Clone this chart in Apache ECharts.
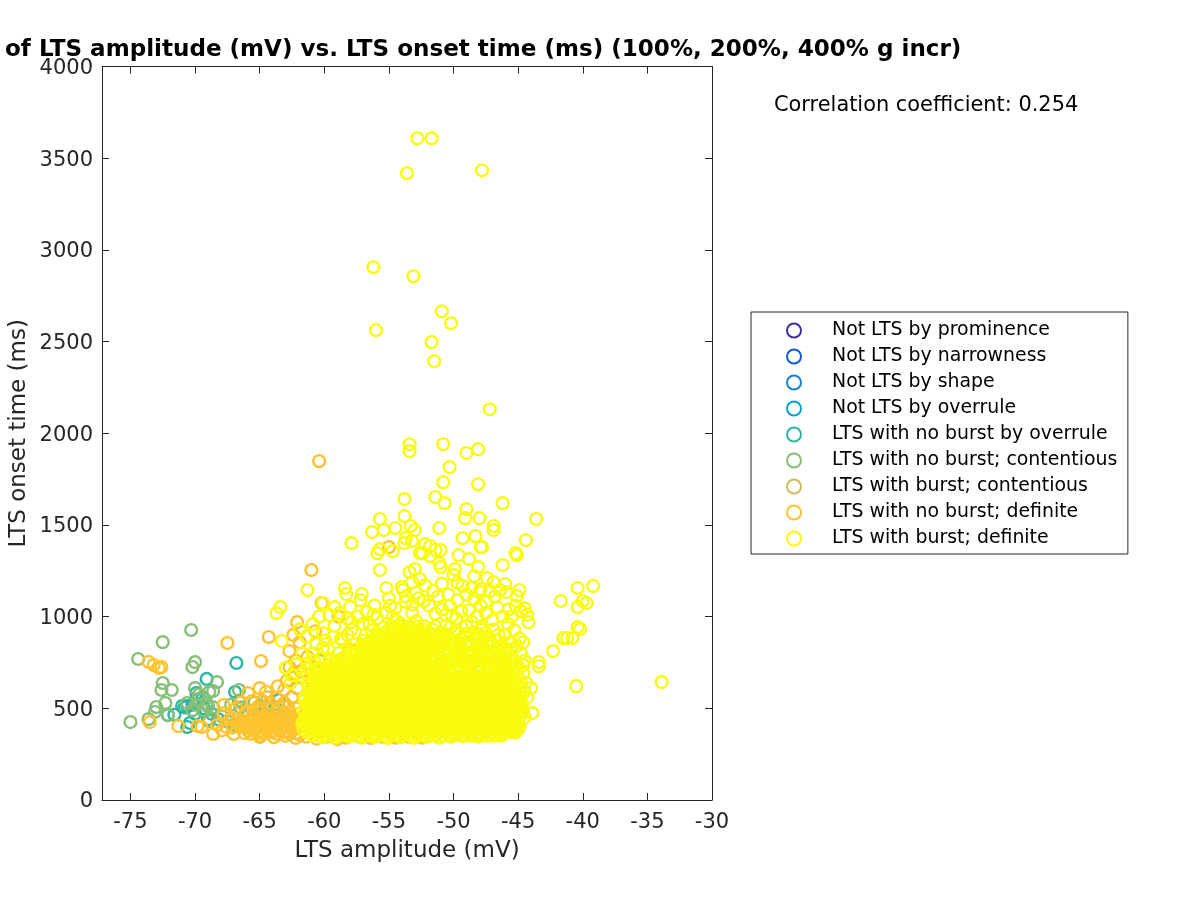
<!DOCTYPE html>
<html><head><meta charset="utf-8">
<script src="https://cdn.jsdelivr.net/npm/echarts@6/dist/echarts.min.js"></script>
<style>html,body{margin:0;padding:0;background:#fff}#c{width:1200px;height:900px}</style>
</head><body><div id="c"></div>
<script>
const seriesNames=["Not LTS by prominence","Not LTS by narrowness","Not LTS by shape","Not LTS by overrule","LTS with no burst by overrule","LTS with no burst; contentious","LTS with burst; contentious","LTS with no burst; definite","LTS with burst; definite"];
const seriesColors=["#3F2F9E","#0F5CDD","#1481D6","#06A4CA","#2BB7A2","#87BF77","#D1BB59","#FEC32E","#F9FB0E"];
const xTicks=[-75,-70,-65,-60,-55,-50,-45,-40,-35,-30];

const notProminence=[],notNarrowness=[],notShape=[],notOverrule=[];
const noBurstOverrule=[[-66.8,747],[-69.1,660],[-69.9,583],[-66.9,589],[-71,512],[-70.6,512],[-70.2,520],[-70.8,505],[-72.1,463],[-70.6,398],[-69.8,545],[-69.3,500],[-68.7,470],[-70,470],[-69,440],[-68.2,440],[-67.5,430],[-69.4,560],[-66.6,540],[-65.6,440],[-64.7,470],[-63.8,500],[-63.5,545],[-62.9,430],[-70.4,420],[-71.6,465]];
const noBurstContentious=[[-75,425],[-74.4,769],[-72.5,861],[-70.3,927],[-70,752],[-70.2,725],[-72.5,638],[-72.6,600],[-71.8,600],[-72.3,529],[-73,507],[-73.1,480],[-73.6,441],[-72.1,463],[-70,610],[-68.3,643],[-68.9,589],[-68.6,594],[-70.6,529],[-69.1,529],[-69.7,575],[-69.7,550],[-69.9,520],[-69.4,490],[-70.2,490],[-69,510],[-68.6,505],[-66.6,600],[-67.9,455],[-68.9,430],[-67.2,520],[-66.5,505],[-66,490],[-65.4,530],[-65.1,460],[-64.5,510],[-64.2,430],[-66.4,425],[-67,410],[-63.7,460],[-63.2,520],[-65.8,395]];
const burstContentious=[[-64.4,560],[-63.4,430],[-66.2,455],[-60.4,760],[-58.5,650],[-62.1,610]];
const noBurstDefinite=[[-55,1379],[-61,1254],[-60.4,1848],[-67.5,856],[-73.6,753],[-73.2,736],[-72.8,720],[-72.6,725],[-64.9,758],[-64.3,889],[-62.1,970],[-62.7,812],[-62.7,725],[-65,610],[-73.5,425],[-71.3,403],[-69.8,403],[-69.5,398],[-68.6,360],[-68.3,409],[-67.8,518],[-67.8,474],[-67,360],[-66.8,501],[-65.9,583],[-65,343],[-60.2,1074],[-62.4,900],[-61.9,860],[-62.9,650],[-62.4,690],[-61.8,700],[-61,650],[-60.7,920],[-61.3,780],[-62.2,760],[-63.1,600],[-63.6,620],[-64.5,590],[-66.5,530],[-65.6,540],[-65.2,505],[-64.8,540],[-64.2,530],[-63.7,555],[-63.1,530],[-62.5,560],[-62.2,500],[-66.1,470],[-65.5,470],[-64.9,480],[-64.4,470],[-63.8,480],[-63.2,470],[-62.7,480],[-67.3,440],[-66.7,440],[-66.2,430],[-65.7,425],[-65.2,430],[-64.7,425],[-64.2,435],[-63.7,425],[-63.2,430],[-62.7,435],[-62.2,430],[-67.6,400],[-67.1,395],[-66.5,400],[-66,395],[-65.5,392],[-65,398],[-64.5,392],[-64,398],[-63.5,392],[-63,398],[-62.5,392],[-62,398],[-66.2,365],[-65.7,362],[-65.2,368],[-64.7,362],[-64.2,368],[-63.7,362],[-63.2,368],[-62.7,362],[-62.2,365],[-64.9,350],[-63.9,342],[-63,350],[-62.2,338],[-61.4,345],[-60.6,335],[-59.8,345],[-59,332],[-58.3,340],[-57.3,345],[-56.4,338],[-55.5,345],[-54.5,340],[-53.5,345],[-52.4,340],[-60.7,375],[-59.5,410],[-60.5,470],[-61.1,540],[-60.2,600],[-59.1,720],[-58,820],[-58.9,1000],
[-65.9,378],[-65.4,380],[-64.9,376],[-64.4,382],[-63.9,378],[-63.4,380],[-62.9,376],[-62.4,380],[-65.7,410],[-65.2,412],[-64.7,408],[-64.2,414],[-63.7,408],[-63.2,412],[-62.7,410],[-62.2,414],[-65.4,445],[-64.9,448],[-64.4,442],[-63.9,447],[-63.4,443],[-62.9,449],[-62.4,445],[-65.1,500],[-64.3,495],[-63.5,505],[-62.8,510],[-64.7,455],[-63.2,450],[-62.6,458],[-66.6,415],[-66.1,412],[-67.9,380],[-61.9,355],[-61.8,415],[-61.9,470]];

const burstDefiniteOutliers=[[-52.8,3608],[-51.7,3608],[-53.6,3418],[-47.8,3434],[-56.2,2905],[-53.1,2856],[-50.9,2665],[-50.2,2600],[-56,2562],[-51.7,2497],[-51.5,2393],[-47.2,2131],[-53.4,1940],[-53.4,1902],[-50.8,1940],[-49,1892],[-48.1,1913],[-50.3,1815],[-50.8,1733],[-48.1,1722],[-53.8,1641],[-51.4,1652],[-50.7,1619],[-46.2,1619],[-49,1586],[-49.1,1537],[-48,1537],[-53.8,1548],[-43.6,1532],[-46.9,1494],[-46.9,1472],[-53.3,1494],[-53,1472],[-51.1,1483],[-44.4,1417],[-49.3,1428],[-48.3,1439],[-53.7,1428],[-53.2,1412],[-53.8,1401],[-47.9,1379],[-47.8,1379],[-45.2,1346],[-45.1,1335],[-49.6,1335],[-48.8,1314],[-46.2,1281],[-48.1,1270],[-52.4,1346],[-52.2,1395],[-51.8,1385],[-51.4,1363],[-51,1363],[-51.8,1330],[-51.1,1292],[-51,1270],[-49.9,1259],[-50,1226],[-53,1259],[-53.4,1243],[-47.4,1210],[-46.9,1188],[-48.4,1221],[-49.3,1167],[-48.6,1156],[-48,1134],[-48.4,1096],[-46,1177],[-46.4,1145],[-45.9,1134],[-44.9,1145],[-45.1,1112],[-40.4,1156],[-39.2,1167],[-41.7,1085],[-40.4,1052],[-40,1085],[-39.7,1074],[-40.4,943],[-40.2,932],[-40.8,883],[-41.2,883],[-41.5,883],[-42.3,812],[-43.4,752],[-43.4,730],[-44.2,970],[-40.5,621],[-33.9,643],[-43.9,474],[-44,610],[-57.9,1401],[-55.7,1532],[-56.3,1461],[-55.4,1472],[-54.5,1483],[-55.7,1368],[-55.9,1346],[-54.7,1357],[-52.6,1346],[-55.7,1254],[-53.2,1188],[-55.2,1156],[-54,1161],[-53.9,1145],[-61.3,1145],[-63.4,1052],[-63.7,1019],[-63.3,867],[-58.4,1156],[-58.3,1123],[-57.1,1123],[-57.2,1090],[-54.5,1047],[-60.1,1074],[-59.2,1052],[-58,1052],[-57.9,970],[-59.6,1008],[-58.2,899],[-56.7,1025],[-55.9,992],[-52.2,1170],[-51.6,1140],[-50.9,1180],[-50.4,1120],[-52.7,1100],[-51.9,1060],[-49.7,1090],[-50.9,1040],[-47.5,1080],[-46.6,1050],[-45.7,1040],[-45.2,1060],[-44.8,1030],[-44.5,1045],[-44.3,1010],[-49.4,1030],[-48.2,1000],[-47,980],[-45.8,960],[-49,950],[-47.8,930],[-46.5,900],[-45.3,925],[-44.9,880],[-45.6,860],[-44.8,800],[-44.5,760],[-45.5,780],[-46.6,820],[-47.9,850],[-49.4,880],[-50.6,950],[-54.7,1000],[-53.2,1020],[-56.1,1060],[-55,1100],[-60.9,960],[-60.1,910],[-59.2,950],[-58.7,880],[-61.4,890],[-60.6,850],[-59.7,820],[-58.9,800],[-61.7,800],[-61,740],[-60.3,770],[-59.5,720],[-62.2,740],[-62.5,680],[-61.3,690],[-60.7,680],[-62.6,640],[-63,720],[-44.6,690],[-44.3,560],[-44.7,520],[-44.5,450],[-45,390],[-45.2,382],[-45.6,382],[-46,385],[-44.9,610],[-44.4,640],
[-52.9,1130],[-52.3,1085],[-51.2,1110],[-50.3,1060],[-49,1120],[-47.2,1140],[-46.8,1110],[-47.9,1060],[-49.8,990],[-51.4,1015],[-52.9,975],[-54.1,960],[-55.2,1020],[-56.5,960],[-57.4,1000],[-58.8,1020],[-60.4,1000],[-61.9,930],[-53.7,1080],[-50.6,1010],[-46.2,1000],[-47.5,1020],[-45.5,1000],[-48.6,970],[-46.9,930],[-48.4,880],[-49.9,920],[-46,900],[-47.2,860],[-45.1,840],[-44.6,860],[-46,760],[-46.8,700],[-48.6,800],[-50.2,840],[-51.3,900],[-52.3,950],[-57.9,930],[-56.8,900],[-59.9,870],[-60.9,800],[-59.6,770],[-45.3,700],[-44.8,650],[-44.5,590],[-44.6,480],[-45.4,395],[-45.7,388],[-60.2,342],[-59.2,338],[-58.1,345],[-57.1,340],[-56.1,344],[-55.1,338],[-54.1,342],[-53.1,338],[-52.1,344],[-51.1,340],[-50.2,345],[-49.2,350],[-48.1,345],[-47.2,352],[-46.3,360],
[-51.7,905],[-51.1,862],[-50.6,905],[-50.1,870],[-49.6,835],[-49.1,905],[-48.6,845],[-48.1,905],[-47.6,820],[-47.1,790],[-46.6,870],[-46.1,830],[-45.6,820],[-51.5,838],[-50.7,795],[-50,760],[-49.3,790],[-48.8,755],[-48.1,775],[-47.4,745],[-46.7,760],[-46.2,725],[-45.5,740],[-50.9,735],[-50.3,700],[-49.5,725],[-48.8,690],[-48.2,720],[-47.5,680],[-46.9,660],[-46.2,690],[-45.6,665],[-51.6,770],[-51.2,680],[-49.9,665],[-49,650],[-48.3,655],[-58.6,870],[-57.6,850],[-57,870],[-56.3,925],[-55.4,940],[-54.4,975],[-53.6,940],[-52.8,905],[-59.3,890],[-60.1,830],[-60.8,760],[-61.2,720],[-61.6,670],[-60.4,720],[-59.9,690],[-60.4,660],[-59.1,760],[-58.5,765],[-54.9,1060],[-56.2,1010],[-58.2,990],[-57,960],[-55.9,900],[-53.2,1065],[-50.1,1005],[-48.8,1035],[-47.9,1150],[-49.7,1185],[-52.6,1205],[-53.7,1110],[-44.9,720],[-44.6,735],[-44.8,560],[-45,480]];
const blobLevels=[352,385,420,455,490,525,560,595,630,665,700,735,770,805,840,875,910,945];
const blobRows=[
[-60.9,-60.4,-59.9,-59.4,-58.8,-58.3,-57.9,-57.3,-56.8,-56.3,-55.9,-55.3,-54.8,-54.4,-53.8,-53.3,-52.8,-52.4,-51.8,-51.4,-50.8,-50.3,-49.8,-49.3,-48.7,-48.3,-47.8,-47.4,-46.8,-46.3],
[-61.6,-61.1,-60.5,-60,-59.6,-59,-58.5,-58.1,-57.5,-57,-56.5,-56,-55.5,-55,-54.5,-54,-53.5,-53,-52.5,-52.1,-51.5,-51,-50.5,-50,-49.5,-49,-48.5,-48,-47.5,-47,-46.5,-46,-45.5,-45],
[-61.7,-61.3,-60.7,-60.2,-59.7,-59.2,-58.7,-58.2,-57.7,-57.2,-56.7,-56.2,-55.7,-55.2,-54.7,-54.2,-53.7,-53.2,-52.7,-52.2,-51.7,-51.2,-50.7,-50.2,-49.7,-49.2,-48.7,-48.2,-47.7,-47.2,-46.7,-46.2,-45.7,-45.2],
[-61.4,-60.9,-60.4,-59.9,-59.4,-58.9,-58.4,-57.9,-57.4,-56.9,-56.4,-55.9,-55.4,-54.9,-54.4,-53.9,-53.4,-52.9,-52.4,-51.9,-51.4,-50.9,-50.4,-49.9,-49.4,-48.9,-48.4,-47.9,-47.4,-46.9,-46.4,-45.9,-45.4,-44.9],
[-61.6,-61,-60.6,-60.1,-59.6,-59.1,-58.6,-58.1,-57.6,-57.1,-56.6,-56.1,-55.6,-55.1,-54.6,-54.1,-53.6,-53.1,-52.6,-52.1,-51.6,-51.1,-50.6,-50.1,-49.6,-49.1,-48.6,-48.1,-47.6,-47.1,-46.6,-46.1,-45.6,-45.1,-44.7],
[-61.3,-60.8,-60.3,-59.8,-59.3,-58.8,-58.3,-57.8,-57.3,-56.8,-56.3,-55.8,-55.3,-54.8,-54.3,-53.8,-53.3,-52.8,-52.3,-51.8,-51.3,-50.8,-50.3,-49.8,-49.3,-48.8,-48.3,-47.8,-47.3,-46.8,-46.3,-45.8,-45.3,-44.9],
[-61.5,-61,-60.5,-60,-59.5,-59,-58.5,-58,-57.5,-57,-56.5,-56,-55.5,-55,-54.5,-54,-53.5,-53,-52.5,-52,-51.5,-51,-50.5,-50,-49.5,-49,-48.5,-48,-47.5,-47,-46.5,-46,-45.5,-45],
[-61.2,-60.7,-60.2,-59.7,-59.2,-58.7,-58.2,-57.7,-57.2,-56.7,-56.2,-55.7,-55.2,-54.7,-54.2,-53.7,-53.2,-52.7,-52.2,-51.7,-51.2,-50.7,-50.2,-49.7,-49.2,-48.7,-48.2,-47.7,-47.2,-46.7,-46.2,-45.7,-45.2],
[-61.3,-60.6,-60,-59.5,-59,-58.5,-58,-57.5,-57,-56.5,-56,-55.5,-55,-54.5,-54,-53.5,-53,-52.5,-52,-51.5,-51,-50.5,-50,-49.5,-49,-48.5,-48,-47.5,-47,-46.5,-46,-45.5,-45],
[-60.6,-60.1,-59.6,-59.1,-58.6,-58.1,-57.6,-57.1,-56.6,-56.1,-55.6,-55.1,-54.6,-54.1,-53.6,-53.1,-52.6,-52.1,-51.5,-50.9,-50.4,-49.6,-49.1,-48.4,-47.8,-47.2,-46.6,-46,-45.4],
[-60,-59.4,-58.9,-58.4,-57.9,-57.4,-56.9,-56.4,-55.9,-55.4,-54.9,-54.4,-53.9,-53.4,-52.9,-52.4,-51.8,-51.1,-50.2,-49.5,-48.7,-48,-47.3,-46.5,-45.8,-45.2],
[-59.6,-59.1,-58.6,-58.1,-57.6,-57.1,-56.6,-56.1,-55.6,-55.1,-54.6,-54.1,-53.6,-53.1,-52.6,-52,-51.3,-50.5,-49.6,-48.9,-48,-47.1,-46.2,-45.5],
[-58.7,-58.2,-57.7,-57.2,-56.7,-56.2,-55.7,-55.2,-54.7,-54.2,-53.7,-53.2,-52.7,-52.2,-51.6,-50.8,-50,-49.1,-48.3,-47.4,-46.5,-45.7],
[-58,-57.5,-57,-56.5,-56,-55.5,-55,-54.5,-54,-53.5,-53,-52.5,-52,-51.2,-50.3,-49.5,-48.6,-47.7,-46.9,-46],
[-57,-56.5,-56,-55.5,-55,-54.5,-54,-53.5,-53,-52.5,-51.9,-51.1,-50,-49,-48,-47,-46.3],
[-56.2,-55.6,-55,-54.5,-54,-53.5,-53,-52.4,-51.6,-50.6,-49.4,-48.2,-47.2],
[-55.4,-54.8,-54.2,-53.7,-53.2,-52.6,-52,-51,-49.8,-48.6,-47.5],
[-54.6,-54,-53.4,-52.8,-52.2,-51.4,-50.2,-49,-47.8]
];
const fillLevels=[368,403,438,472,508,543,578,612,648,683,718,753,788,822,858,893,928];
const fillRows=[
[-61.3,-60.7,-60.2,-59.7,-59.1,-58.6,-58.1,-57.6,-57.1,-56.6,-56.1,-55.6,-55.1,-54.6,-54.1,-53.6,-53.1,-52.6,-52.1,-51.6,-51.1,-50.6,-50.1,-49.6,-49.1,-48.6,-48.1,-47.6,-47.1,-46.6,-46.1,-45.6,-45.2],
[-61.4,-60.9,-60.3,-59.8,-59.3,-58.8,-58.3,-57.8,-57.3,-56.8,-56.3,-55.8,-55.3,-54.8,-54.3,-53.8,-53.3,-52.8,-52.3,-51.8,-51.3,-50.8,-50.3,-49.8,-49.3,-48.8,-48.3,-47.8,-47.3,-46.8,-46.3,-45.8,-45.3,-44.9],
[-61.5,-61,-60.5,-60,-59.5,-59,-58.5,-58,-57.5,-57,-56.5,-56,-55.5,-55,-54.5,-54,-53.5,-53,-52.5,-52,-51.5,-51,-50.5,-50,-49.5,-49,-48.5,-48,-47.5,-47,-46.5,-46,-45.5,-45],
[-61.2,-60.6,-60.1,-59.6,-59.1,-58.6,-58.1,-57.6,-57.1,-56.6,-56.1,-55.6,-55.1,-54.6,-54.1,-53.6,-53.1,-52.6,-52.1,-51.6,-51.1,-50.6,-50.1,-49.6,-49.1,-48.6,-48.1,-47.6,-47.1,-46.6,-46.1,-45.6,-45.1],
[-61.3,-60.8,-60.4,-59.9,-59.3,-58.8,-58.4,-57.9,-57.3,-56.9,-56.4,-55.9,-55.4,-54.9,-54.4,-53.9,-53.4,-52.9,-52.4,-51.9,-51.4,-50.9,-50.4,-49.9,-49.4,-48.9,-48.4,-47.9,-47.4,-46.9,-46.4,-45.9,-45.4,-44.8],
[-61.5,-61,-60.5,-60.1,-59.5,-59,-58.5,-58.1,-57.5,-57.1,-56.5,-56.1,-55.5,-55.1,-54.5,-54.1,-53.5,-53.1,-52.5,-52.1,-51.5,-51.1,-50.5,-50.1,-49.5,-49.1,-48.5,-48.1,-47.5,-47.1,-46.5,-46.1,-45.5,-45.1],
[-61.1,-60.7,-60.2,-59.7,-59.2,-58.7,-58.2,-57.7,-57.2,-56.7,-56.2,-55.7,-55.2,-54.7,-54.2,-53.7,-53.2,-52.7,-52.2,-51.7,-51.2,-50.7,-50.2,-49.7,-49.2,-48.7,-48.2,-47.7,-47.2,-46.7,-46.2,-45.7,-45.3],
[-60.9,-60.4,-59.9,-59.4,-58.9,-58.4,-57.9,-57.4,-56.9,-56.4,-55.9,-55.4,-54.9,-54.4,-53.9,-53.4,-52.9,-52.4,-51.9,-51.4,-50.9,-50.4,-49.9,-49.4,-48.8,-48.2,-47.7,-47.2,-46.7,-46.2,-45.7],
[-60.4,-59.8,-59.3,-58.8,-58.3,-57.8,-57.3,-56.8,-56.3,-55.8,-55.3,-54.8,-54.3,-53.8,-53.3,-52.8,-52.3,-51.8,-51.3,-50.7,-50.1,-49.4,-48.8,-48.1,-47.5,-46.9,-46.3],
[-59.9,-59.3,-58.8,-58.3,-57.8,-57.3,-56.8,-56.3,-55.8,-55.3,-54.8,-54.3,-53.8,-53.3,-52.8,-52.3,-51.7,-50.9,-50,-49.2,-48.4,-47.6,-46.9,-46.1],
[-59.3,-58.8,-58.3,-57.8,-57.3,-56.8,-56.3,-55.8,-55.3,-54.8,-54.3,-53.8,-53.3,-52.8,-52.2,-51.6,-50.8,-49.9,-49,-48.1,-47.3,-46.4],
[-58.9,-58.4,-57.9,-57.4,-56.9,-56.4,-55.9,-55.4,-54.9,-54.4,-53.9,-53.4,-52.9,-52.4,-51.8,-51.1,-50.2,-49.4,-48.5,-47.7,-46.8],
[-58.3,-57.8,-57.3,-56.8,-56.3,-55.8,-55.3,-54.8,-54.3,-53.8,-53.3,-52.8,-52.3,-51.6,-50.7,-49.7,-48.8,-47.9,-47],
[-57.6,-57.1,-56.6,-56.1,-55.6,-55.1,-54.6,-54.1,-53.6,-53.1,-52.6,-52.1,-51.4,-50.4,-49.3,-48.2],
[-56.6,-56.1,-55.6,-55.1,-54.6,-54.1,-53.6,-53.1,-52.6,-52,-51.2,-50.2,-49,-47.8],
[-55.8,-55.3,-54.8,-54.3,-53.8,-53.3,-52.8,-52.2,-51.4,-50.4],
[-55,-54.5,-53.9,-53.4,-52.9,-52.3,-51.6]
];
const burstDefinite=burstDefiniteOutliers
 .concat(fillRows.flatMap((r,i)=>r.map(x=>[x,fillLevels[i]])))
 .concat(blobRows.flatMap((r,i)=>r.map(x=>[x,blobLevels[i]])));

const seriesData=[notProminence,notNarrowness,notShape,notOverrule,noBurstOverrule,noBurstContentious,burstContentious,noBurstDefinite,burstDefinite];
const ink="#262626";
const font="DejaVu Sans";
const chart=echarts.init(document.getElementById("c"),null,{renderer:"canvas"});
const baseAxis={splitLine:{show:false},axisLine:{show:true,onZero:false,lineStyle:{color:ink}}};
const plain=v=>String(v);
chart.setOption({
 animation:false,backgroundColor:"#fff",
 title:[
  {text:"of LTS amplitude (mV) vs. LTS onset time (ms) (100%, 200%, 400% g incr)",left:0,top:34,textStyle:{fontFamily:font,fontWeight:"bold",fontSize:23.05,color:"#000"}},
  {text:"Correlation coefficient: 0.254",left:769,top:90,textStyle:{fontFamily:font,fontWeight:"normal",fontSize:20.9,color:"#000"}}
 ],
 grid:{left:102,top:66.5,width:610,height:733.5,containLabel:false,outerBoundsMode:"none"},
 legend:{orient:"vertical",left:751,top:312,padding:[9,10.5,6,35],itemGap:7,itemWidth:66,itemHeight:14,symbolSize:12,borderColor:ink,borderWidth:1,backgroundColor:"#fff",textStyle:{fontFamily:font,fontSize:18.9,color:"#000"},data:seriesNames},
 xAxis:[
  {...baseAxis,type:"value",min:-77.2,max:-30,position:"bottom",name:"LTS amplitude (mV)",nameLocation:"middle",nameGap:40,nameTextStyle:{fontFamily:font,fontSize:23,color:ink},
   axisTick:{inside:true,length:7,customValues:xTicks,lineStyle:{color:ink}},axisLabel:{customValues:xTicks,formatter:plain,fontFamily:font,fontSize:21,color:ink,margin:12}},
  {...baseAxis,type:"value",min:-77.2,max:-30,position:"top",axisTick:{inside:true,length:7,customValues:xTicks,lineStyle:{color:ink}},axisLabel:{show:false}}
 ],
 yAxis:[
  {...baseAxis,type:"value",min:0,max:4000,interval:500,position:"left",name:"LTS onset time (ms)",nameLocation:"middle",nameGap:71,nameMoveOverlap:false,nameTextStyle:{fontFamily:font,fontSize:23,color:ink},
   axisTick:{inside:true,length:7,lineStyle:{color:ink}},axisLabel:{formatter:plain,fontFamily:font,fontSize:21,color:ink,margin:9,verticalAlign:"top",lineHeight:4}},
  {...baseAxis,type:"value",min:0,max:4000,interval:500,position:"right",axisTick:{inside:true,length:7,lineStyle:{color:ink}},axisLabel:{show:false}}
 ],
 series:seriesNames.map((n,i)=>({name:n,type:"scatter",data:seriesData[i],symbol:"circle",symbolSize:11.8,z:2+i,clip:false,
   itemStyle:{color:"rgba(255,255,255,0)",borderColor:seriesColors[i],borderWidth:2.4,opacity:1},emphasis:{disabled:true}}))
});
</script></body></html>
